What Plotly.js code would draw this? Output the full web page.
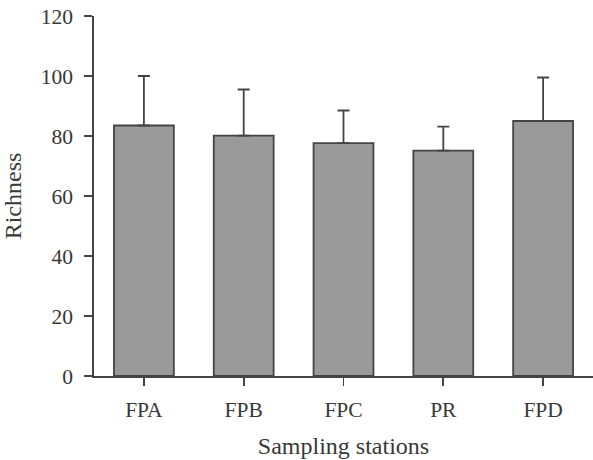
<!DOCTYPE html>
<html>
<head>
<meta charset="utf-8">
<script src="https://cdn.plot.ly/plotly-3.0.1.min.js"></script>
<style>
  html, body { margin: 0; padding: 0; background: #fff; }
  #chart { width: 593px; height: 460px; }
</style>
</head>
<body>
<div id="chart"></div>
<script>
// Mean species richness per sampling station, with standard deviation above each bar
const stations = ["FPA", "FPB", "FPC", "PR", "FPD"];
const richness = [83.5, 80.1, 77.6, 75.1, 85.0];
const richnessSD = [16.5, 15.4, 10.9, 8.0, 14.5];
const noLowerError = [0, 0, 0, 0, 0];
const yTicks = [0, 20, 40, 60, 80, 100, 120];

const ink = "#444444";
const textColor = "#383838";
const serif = "Liberation Serif";

const trace = {
  type: "bar",
  x: stations,
  y: richness,
  marker: { color: "#9a9a9a", line: { color: ink, width: 1.8 } },
  error_y: {
    type: "data",
    symmetric: false,
    array: richnessSD,
    arrayminus: noLowerError,
    color: ink,
    thickness: 1.8,
    width: 6
  },
  hoverinfo: "x+y"
};

const layout = {
  width: 593,
  height: 460,
  margin: { l: 94, r: 0, t: 16, b: 84 },
  paper_bgcolor: "#ffffff",
  plot_bgcolor: "#ffffff",
  bargap: 0.4,
  showlegend: false,
  font: { family: serif, color: textColor, size: 21.5 },
  xaxis: {
    type: "category",
    range: [-0.5, 4.5],
    showline: true,
    linecolor: ink,
    linewidth: 1.6,
    ticks: "outside",
    ticklen: 8,
    tickwidth: 1.6,
    tickcolor: ink,
    ticklabelstandoff: 6,
    showgrid: false,
    zeroline: false,
    tickfont: { family: serif, size: 21.5, color: textColor },
    title: { text: "Sampling stations", font: { family: serif, size: 24, color: textColor }, standoff: 16 }
  },
  yaxis: {
    range: [0, 120],
    tickvals: yTicks,
    ticktext: yTicks.map(String),
    showline: true,
    linecolor: ink,
    linewidth: 1.6,
    ticks: "outside",
    ticklen: 8,
    tickwidth: 1.6,
    tickcolor: ink,
    ticklabelstandoff: 7,
    showgrid: false,
    zeroline: false,
    tickfont: { family: serif, size: 21.5, color: textColor },
    title: { text: "Richness", font: { family: serif, size: 24, color: textColor }, standoff: 24 }
  }
};

Plotly.newPlot("chart", [trace], layout, { displayModeBar: false, staticPlot: true });
</script>
</body>
</html>
